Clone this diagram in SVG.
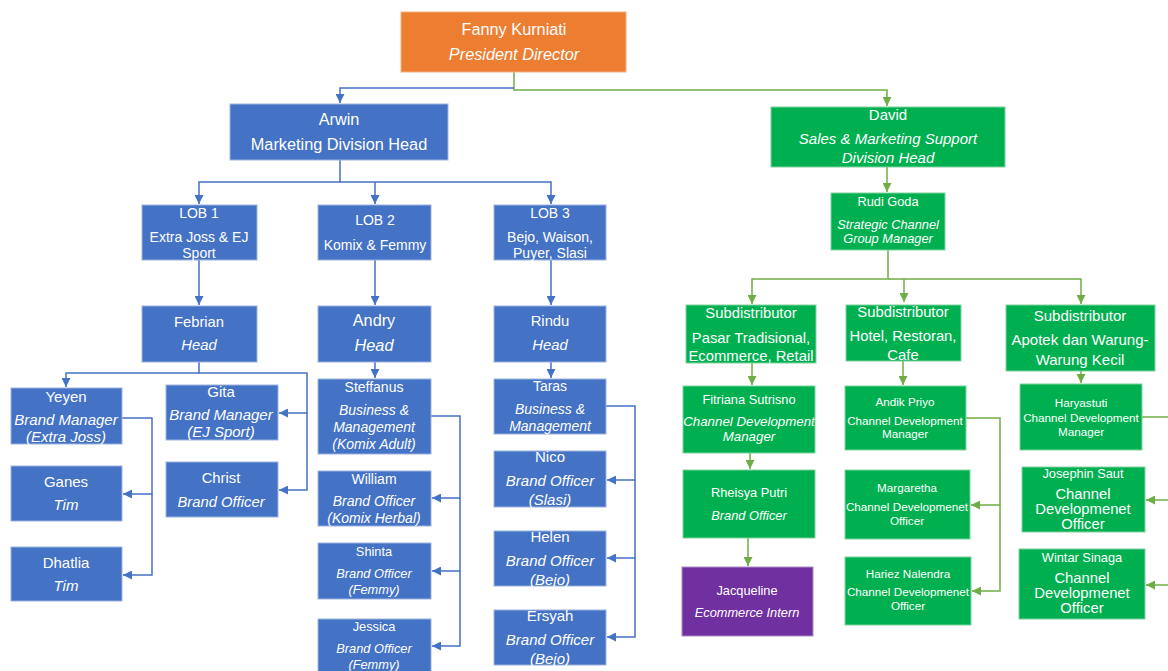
<svg xmlns="http://www.w3.org/2000/svg" width="1168" height="671" viewBox="0 0 1168 671">
<defs>
<style>
text{font-family:"Liberation Sans",Arial,sans-serif;fill:#fff;text-anchor:middle;font-size:14px}
.i{font-style:italic}
.s{font-size:11.7px}
.m{font-size:12.8px}
.l{font-size:14.8px}
.x{font-size:15px}
.h{font-size:16.3px}
.b rect{fill:#4472C4;stroke:#9DB3E0;stroke-width:1}
.g rect{fill:#00B050;stroke:#7FD39E;stroke-width:1}
.cb{fill:none;stroke:#4472C4;stroke-width:1.5;marker-end:url(#ab)}
.cg{fill:none;stroke:#70AD47;stroke-width:1.5;marker-end:url(#ag)}
.cgn{fill:none;stroke:#70AD47;stroke-width:1.5}
</style>
<marker id="ab" viewBox="0 0 10 10" refX="10" refY="5" markerWidth="9" markerHeight="9" markerUnits="userSpaceOnUse" orient="auto"><path d="M0,0 L10,5 L0,10 z" fill="#4472C4"/></marker>
<marker id="ag" viewBox="0 0 10 10" refX="10" refY="5" markerWidth="9" markerHeight="9" markerUnits="userSpaceOnUse" orient="auto"><path d="M0,0 L10,5 L0,10 z" fill="#70AD47"/></marker>
</defs>
<rect width="1168" height="671" fill="#fff"/>

<g id="connectors">
<path class="cg" d="M514,72 V90 H887 V106"/>
<path class="cb" d="M514,88 H340 V103"/>
<path class="cb" d="M340,160 V182 H199 V204"/>
<path class="cb" d="M340,182 H551 V204"/>
<path class="cb" d="M375,182 V204"/>
<path class="cb" d="M199,260 V305"/>
<path class="cb" d="M375,260 V305"/>
<path class="cb" d="M551,260 V305"/>
<path class="cb" d="M199,362 V373 H66 V387"/>
<path class="cb" d="M199,373 H307 V413 H279"/>
<path class="cb" d="M307,413 V490 H279"/>
<path class="cb" d="M122,418 H152 V494 H123"/>
<path class="cb" d="M152,494 V575 H123"/>
<path class="cb" d="M375,362 V378"/>
<path class="cb" d="M431,416 H460 V498 H432"/>
<path class="cb" d="M460,498 V571 H432"/>
<path class="cb" d="M460,571 V646 H432"/>
<path class="cb" d="M551,362 V378"/>
<path class="cb" d="M606,406 H635 V480 H607"/>
<path class="cb" d="M635,480 V558 H607"/>
<path class="cb" d="M635,558 V637 H607"/>
<path class="cg" d="M887,167 V192"/>
<path class="cg" d="M888,250 V279 H752 V304"/>
<path class="cg" d="M888,279 H1081 V304"/>
<path class="cg" d="M904,279 V302"/>
<path class="cg" d="M752,363 V385"/>
<path class="cg" d="M750,453 V469"/>
<path class="cg" d="M748,538 V566"/>
<path class="cg" d="M903,361 V385"/>
<path class="cg" d="M966,418 H1000 V505 H971"/>
<path class="cg" d="M1000,505 V591 H972"/>
<path class="cg" d="M1081,371 V383"/>
<path class="cgn" d="M1142,417 H1170"/>
<path class="cg" d="M1170,500 H1146"/>
<path class="cg" d="M1170,585 H1146"/>
</g>

<g id="fanny"><rect x="401" y="12" width="225" height="60" fill="#ED7D31" stroke="#F4B183"/>
<text x="514" y="35" class="h">Fanny Kurniati</text><text x="514" y="60" class="h i">President Director</text></g>

<g id="arwin" class="b"><rect x="230" y="104" width="218" height="56"/>
<text x="339" y="125" class="h">Arwin</text><text x="339" y="150" class="h">Marketing Division Head</text></g>

<g id="lob1" class="b"><rect x="142" y="205" width="115" height="55"/>
<text x="199" y="218">LOB 1</text><text x="199" y="242">Extra Joss &amp; EJ</text><text x="199" y="258">Sport</text></g>
<g id="lob2" class="b"><rect x="318" y="205" width="113" height="55"/>
<text x="375" y="225">LOB 2</text><text x="375" y="250">Komix &amp; Femmy</text></g>
<g id="lob3" class="b"><rect x="494" y="205" width="112" height="55"/>
<text x="550" y="218">LOB 3</text><text x="550" y="242">Bejo, Waison,</text><text x="550" y="258">Puyer, Slasi</text></g>

<g id="febrian" class="b"><rect x="142" y="306" width="115" height="56"/>
<text x="199" y="327" class="l">Febrian</text><text x="199" y="350" class="l i">Head</text></g>
<g id="andry" class="b"><rect x="318" y="306" width="113" height="56"/>
<text x="374" y="326" class="h">Andry</text><text x="374" y="351" class="h i">Head</text></g>
<g id="rindu" class="b"><rect x="494" y="306" width="112" height="56"/>
<text x="550" y="326" class="l">Rindu</text><text x="550" y="350" class="l i">Head</text></g>

<g id="yeyen" class="b"><rect x="11" y="388" width="111" height="56"/>
<text x="66" y="402" class="x">Yeyen</text><text x="66" y="425" class="x i">Brand Manager</text><text x="66" y="442" class="x i">(Extra Joss)</text></g>
<g id="ganes" class="b"><rect x="11" y="466" width="111" height="55"/>
<text x="66" y="487" class="x">Ganes</text><text x="66" y="510" class="x i">Tim</text></g>
<g id="dhatlia" class="b"><rect x="11" y="547" width="111" height="54"/>
<text x="66" y="568" class="x">Dhatlia</text><text x="66" y="591" class="x i">Tim</text></g>
<g id="gita" class="b"><rect x="166" y="385" width="112" height="55"/>
<text x="221" y="397" class="x">Gita</text><text x="221" y="420" class="x i">Brand Manager</text><text x="221" y="437" class="x i">(EJ Sport)</text></g>
<g id="christ" class="b"><rect x="166" y="462" width="112" height="55"/>
<text x="221" y="483" class="l">Christ</text><text x="221" y="507" class="l i">Brand Officer</text></g>

<g id="steffanus" class="b"><rect x="318" y="379" width="113" height="75"/>
<text x="374" y="392">Steffanus</text><text x="374" y="415" class="i">Business &amp;</text><text x="374" y="432" class="i">Management</text><text x="374" y="449" class="i">(Komix Adult)</text></g>
<g id="william" class="b"><rect x="318" y="471" width="113" height="55"/>
<text x="374" y="484">William</text><text x="374" y="506" class="i">Brand Officer</text><text x="374" y="523" class="i">(Komix Herbal)</text></g>
<g id="shinta" class="b"><rect x="318" y="543" width="113" height="56"/>
<text x="374" y="556" class="m">Shinta</text><text x="374" y="578" class="m i">Brand Officer</text><text x="374" y="594" class="m i">(Femmy)</text></g>
<g id="jessica" class="b"><rect x="318" y="619" width="113" height="56"/>
<text x="374" y="631" class="m">Jessica</text><text x="374" y="653" class="m i">Brand Officer</text><text x="374" y="669" class="m i">(Femmy)</text></g>

<g id="taras" class="b"><rect x="494" y="379" width="112" height="55"/>
<text x="550" y="391">Taras</text><text x="550" y="414" class="i">Business &amp;</text><text x="550" y="431" class="i">Management</text></g>
<g id="nico" class="b"><rect x="494" y="451" width="112" height="56"/>
<text x="550" y="462" class="x">Nico</text><text x="550" y="486" class="x i">Brand Officer</text><text x="550" y="505" class="x i">(Slasi)</text></g>
<g id="helen" class="b"><rect x="494" y="531" width="112" height="55"/>
<text x="550" y="542" class="x">Helen</text><text x="550" y="566" class="x i">Brand Officer</text><text x="550" y="585" class="x i">(Bejo)</text></g>
<g id="ersyah" class="b"><rect x="494" y="610" width="112" height="55"/>
<text x="550" y="621" class="x">Ersyah</text><text x="550" y="645" class="x i">Brand Officer</text><text x="550" y="664" class="x i">(Bejo)</text></g>

<g id="david" class="g"><rect x="771" y="107" width="234" height="60"/>
<text x="888" y="120" class="x">David</text><text x="888" y="144" class="x i">Sales &amp; Marketing Support</text><text x="888" y="163" class="x i">Division Head</text></g>
<g id="rudi" class="g"><rect x="831" y="193" width="114" height="57"/>
<text x="888" y="206" class="m">Rudi Goda</text><text x="888" y="229" class="m i">Strategic Channel</text><text x="888" y="243" class="m i">Group  Manager</text></g>

<g id="sub1" class="g"><rect x="686" y="305" width="130" height="58"/>
<text x="751" y="318" class="l">Subdistributor</text><text x="751" y="343" class="l">Pasar Tradisional,</text><text x="751" y="361" class="l">Ecommerce, Retail</text></g>
<g id="sub2" class="g"><rect x="846" y="305" width="115" height="56"/>
<text x="903" y="317" class="l">Subdistributor</text><text x="903" y="341" class="l">Hotel, Restoran,</text><text x="903" y="360" class="l">Cafe</text></g>
<g id="sub3" class="g"><rect x="1006" y="305" width="149" height="66"/>
<text x="1080" y="321" class="x">Subdistributor</text><text x="1080" y="345" class="x">Apotek dan Warung-</text><text x="1080" y="365" class="x">Warung Kecil</text></g>

<g id="fitriana" class="g"><rect x="683" y="386" width="132" height="67"/>
<text x="749" y="404" class="m">Fitriana Sutrisno</text><text x="749" y="426" class="i" style="font-size:13.3px">Channel Development</text><text x="749" y="441" class="i" style="font-size:13.3px">Manager</text></g>
<g id="rheisya" class="g"><rect x="683" y="470" width="132" height="68"/>
<text x="749" y="497" class="m">Rheisya Putri</text><text x="749" y="520" class="m i">Brand Officer</text></g>
<g id="jacqueline"><rect x="682" y="567" width="131" height="69" fill="#7030A0" stroke="#A98BC7"/>
<text x="747" y="595" class="m">Jacqueline</text><text x="747" y="617" class="m i">Ecommerce Intern</text></g>

<g id="andik" class="g"><rect x="845" y="386" width="121" height="64"/>
<text x="905" y="406" class="s">Andik Priyo</text><text x="905" y="425" class="s">Channel Development</text><text x="905" y="438" class="s">Manager</text></g>
<g id="margaretha" class="g"><rect x="845" y="470" width="125" height="69"/>
<text x="907" y="492" class="s">Margaretha</text><text x="907" y="511" class="s">Channel Developmenet</text><text x="907" y="525" class="s">Officer</text></g>
<g id="hariez" class="g"><rect x="845" y="557" width="126" height="68"/>
<text x="908" y="578" class="s">Hariez Nalendra</text><text x="908" y="596" class="s">Channel Developmenet</text><text x="908" y="610" class="s">Officer</text></g>

<g id="haryastuti" class="g"><rect x="1020" y="384" width="122" height="66"/>
<text x="1081" y="407" class="s">Haryastuti</text><text x="1081" y="422" class="s">Channel Development</text><text x="1081" y="436" class="s">Manager</text></g>
<g id="josephin" class="g"><rect x="1022" y="467" width="123" height="65"/>
<text x="1083" y="478" class="m">Josephin Saut</text><text x="1083" y="499" class="l">Channel</text><text x="1083" y="514" class="l">Developmenet</text><text x="1083" y="529" class="l">Officer</text></g>
<g id="wintar" class="g"><rect x="1019" y="549" width="126" height="70"/>
<text x="1082" y="562" class="m">Wintar Sinaga</text><text x="1082" y="583" class="l">Channel</text><text x="1082" y="598" class="l">Developmenet</text><text x="1082" y="613" class="l">Officer</text></g>
</svg>
